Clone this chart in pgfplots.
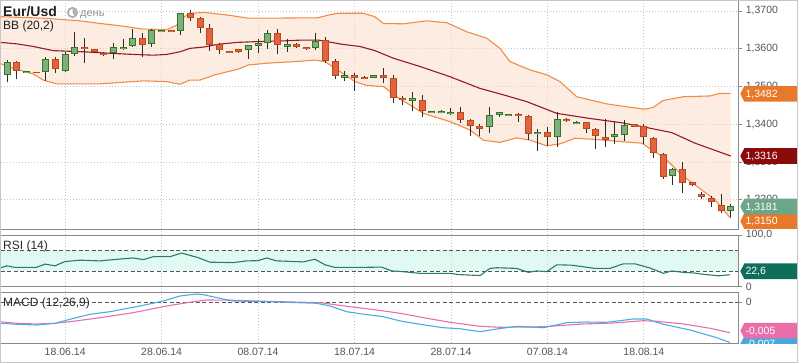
\documentclass[border=0pt]{standalone}
\usepackage{fontspec}
\setmainfont{Liberation Sans}
\usepackage{pgfplots}
\pgfplotsset{compat=1.18}
\usepackage{pgfplotstable}

\definecolor{cRedFill}{HTML}{E4633E}
\definecolor{cRedLine}{HTML}{B84A1C}
\definecolor{cGreenFill}{HTML}{80AE80}
\definecolor{cGreenLine}{HTML}{2E7A1E}
\definecolor{wick}{HTML}{2B2B2B}
\definecolor{bbOuter}{HTML}{F08C48}
\definecolor{bbMid}{HTML}{961A22}
\definecolor{bbFill}{HTML}{FBDCC8}
\definecolor{rsiLine}{HTML}{2A7B6B}
\definecolor{rsiFill}{HTML}{C4F4E8}
\definecolor{macdBlue}{HTML}{4AADE2}
\definecolor{macdPink}{HTML}{E86FA8}
\definecolor{gridc}{HTML}{C4C8C4}
\definecolor{axisc}{HTML}{8A8A8A}
\definecolor{tickc}{HTML}{555555}
\definecolor{tagOrange}{HTML}{E8792A}
\definecolor{tagDarkRed}{HTML}{8B0A0A}
\definecolor{tagGreen}{HTML}{6BA68A}
\definecolor{tagTeal}{HTML}{0E6E5C}
\definecolor{tagPink}{HTML}{E86FA8}
\definecolor{tagBlue}{HTML}{45A9DE}

\newcommand\tickfont{\fontsize{10.5}{12}\selectfont}

% candles: k open high low close
\pgfplotstableread{
k o h l c
1 1.3564 1.3568 1.3519 1.3543
3 1.3538 1.3539 1.3535 1.3536
5 1.3572 1.3577 1.3535 1.3548
8 1.3604 1.3628 1.3563 1.3600
9 1.3597 1.3599 1.3589 1.3592
10 1.3588 1.3592 1.3582 1.3585
14 1.3628 1.3642 1.3577 1.3612
17 1.3649 1.3650 1.3644 1.3645
19 1.3694 1.3703 1.3674 1.3683
20 1.3679 1.3685 1.3641 1.3656
21 1.3654 1.3665 1.3595 1.3610
22 1.3612 1.3614 1.3585 1.3598
23 1.3594 1.3595 1.3588 1.3589
24 1.3597 1.3600 1.3590 1.3592
28 1.3641 1.3651 1.3587 1.3612
30 1.3610 1.3614 1.3602 1.3605
31 1.3604 1.3605 1.3597 1.3600
33 1.3621 1.3630 1.3561 1.3568
34 1.3567 1.3573 1.3520 1.3528
36 1.3528 1.3535 1.3489 1.3523
37 1.3525 1.3527 1.3519 1.3520
39 1.3528 1.3549 1.3510 1.3524
40 1.3522 1.3530 1.3457 1.3471
41 1.3469 1.3474 1.3452 1.3465
43 1.3463 1.3477 1.3420 1.3436
47 1.3431 1.3445 1.3404 1.3413
48 1.3410 1.3414 1.3369 1.3397
49 1.3393 1.3400 1.3369 1.3388
53 1.3427 1.3429 1.3407 1.3423
54 1.3421 1.3424 1.3358 1.3376
56 1.3379 1.3394 1.3342 1.3367
58 1.3413 1.3416 1.3407 1.3409
60 1.3405 1.3406 1.3377 1.3388
61 1.3385 1.3389 1.3334 1.3371
62 1.3366 1.3414 1.3340 1.3361
65 1.3399 1.3400 1.3393 1.3395
66 1.3394 1.3400 1.3349 1.3368
67 1.3363 1.3367 1.3311 1.3325
68 1.3321 1.3325 1.3255 1.3263
70 1.3280 1.3299 1.3219 1.3246
71 1.3245 1.3248 1.3236 1.3240
72 1.3214 1.3222 1.3202 1.3210
73 1.3204 1.3210 1.3181 1.3196
74 1.3185 1.3215 1.3164 1.3173
}\redC

\pgfplotstableread{
k o h l c
0 1.3533 1.3570 1.3511 1.3564
2 1.3537 1.3542 1.3536 1.3541
4 1.3540 1.3579 1.3515 1.3572
6 1.3543 1.3592 1.3539 1.3586
7 1.3588 1.3645 1.3581 1.3604
11 1.3590 1.3616 1.3572 1.3604
12 1.3600 1.3625 1.3597 1.3604
13 1.3609 1.3652 1.3605 1.3628
15 1.3614 1.3651 1.3605 1.3648
16 1.3646 1.3650 1.3645 1.3649
18 1.3649 1.3696 1.3637 1.3694
25 1.3597 1.3609 1.3573 1.3609
26 1.3609 1.3625 1.3588 1.3613
27 1.3617 1.3649 1.3600 1.3641
29 1.3606 1.3626 1.3592 1.3611
32 1.3604 1.3642 1.3597 1.3620
35 1.3524 1.3541 1.3515 1.3528
38 1.3524 1.3529 1.3523 1.3528
42 1.3462 1.3485 1.3436 1.3467
44 1.3430 1.3435 1.3429 1.3434
45 1.3430 1.3438 1.3429 1.3434
46 1.3428 1.3442 1.3424 1.3432
50 1.3393 1.3446 1.3377 1.3424
51 1.3426 1.3431 1.3420 1.3431
52 1.3423 1.3427 1.3423 1.3427
55 1.3376 1.3387 1.3330 1.3379
57 1.3367 1.3432 1.3340 1.3413
59 1.3401 1.3409 1.3400 1.3406
63 1.3368 1.3409 1.3347 1.3372
64 1.3373 1.3411 1.3355 1.3398
69 1.3265 1.3284 1.3240 1.3281
75 1.3172 1.3188 1.3154 1.3181
}\greenC

\pgfplotstableread{
k v
-0.76 1.3685
3.70 1.3681
7.54 1.3674
9.61 1.3667
12.0 1.3660
14.07 1.3652
16.56 1.3651
17.6 1.3663
18.11 1.3681
18.94 1.3694
20.5 1.3696
22.9 1.3689
24.96 1.3681
27.0 1.3681
32.2 1.3682
33.25 1.3689
34.3 1.3694
36.9 1.3694
38.1 1.3685
39.0 1.3667
41.06 1.3666
43.48 1.3674
45.56 1.3669
47.63 1.3645
49.7 1.3628
51.08 1.3601
52.12 1.3566
54.19 1.3544
55.93 1.3531
57.3 1.3513
59.04 1.3473
62.15 1.3454
64.56 1.3445
66.12 1.3440
66.98 1.3445
68.0 1.3463
70.1 1.3473
72.86 1.3475
73.89 1.3482
75.0 1.3482
}\bbUp

\pgfplotstableread{
k v
-0.76 1.3617
0.97 1.3613
2.70 1.3606
4.77 1.3595
7.88 1.3592
10.65 1.3588
13.06 1.3585
15.14 1.3583
16.53 1.3585
17.9 1.3592
18.94 1.3601
20.5 1.3605
21.88 1.3612
23.95 1.3617
26.0 1.3619
28.79 1.3621
30.52 1.3623
32.24 1.3623
32.94 1.3620
34.67 1.3612
36.57 1.3606
38.12 1.3595
40.02 1.3575
42.79 1.3553
45.9 1.3526
49.01 1.3495
51.43 1.3478
53.85 1.3460
56.96 1.3429
60.24 1.3416
63.7 1.3404
65.78 1.3394
68.89 1.3378
71.3 1.3350
75.0 1.3316
}\bbMidT

\pgfplotstableread{
k v
-0.76 1.3561
0.62 1.3548
2.70 1.3533
3.73 1.3517
5.12 1.3507
9.61 1.3507
14.1 1.3515
16.53 1.3513
17.9 1.3506
18.94 1.3517
19.98 1.3517
21.53 1.3531
23.95 1.3546
24.99 1.3557
27.06 1.3562
29.83 1.3566
31.9 1.3570
32.94 1.3566
33.98 1.3548
35.0 1.3531
36.05 1.3513
37.1 1.3504
38.12 1.3501
39.0 1.3500
40.37 1.3473
43.13 1.3429
45.9 1.3407
47.97 1.3385
49.35 1.3358
51.08 1.3352
52.81 1.3364
54.19 1.3358
55.93 1.3343
57.3 1.3348
58.86 1.3363
60.93 1.3360
63.7 1.3354
65.78 1.3350
67.15 1.3327
68.19 1.3310
69.92 1.3266
71.64 1.3233
73.37 1.3200
75.0 1.3151
}\bbLo

% band outline: upper band forward, lower band back
\pgfplotstableread{
k v
-0.76 1.3685
3.70 1.3681
7.54 1.3674
9.61 1.3667
12.0 1.3660
14.07 1.3652
16.56 1.3651
17.6 1.3663
18.11 1.3681
18.94 1.3694
20.5 1.3696
22.9 1.3689
24.96 1.3681
27.0 1.3681
32.2 1.3682
33.25 1.3689
34.3 1.3694
36.9 1.3694
38.1 1.3685
39.0 1.3667
41.06 1.3666
43.48 1.3674
45.56 1.3669
47.63 1.3645
49.7 1.3628
51.08 1.3601
52.12 1.3566
54.19 1.3544
55.93 1.3531
57.3 1.3513
59.04 1.3473
62.15 1.3454
64.56 1.3445
66.12 1.3440
66.98 1.3445
68.0 1.3463
70.1 1.3473
72.86 1.3475
73.89 1.3482
75.0 1.3482
75.0 1.3151
73.37 1.3200
71.64 1.3233
69.92 1.3266
68.19 1.3310
67.15 1.3327
65.78 1.3350
63.7 1.3354
60.93 1.3360
58.86 1.3363
57.3 1.3348
55.93 1.3343
54.19 1.3358
52.81 1.3364
51.08 1.3352
49.35 1.3358
47.97 1.3385
45.9 1.3407
43.13 1.3429
40.37 1.3473
39.0 1.3500
38.12 1.3501
37.1 1.3504
36.05 1.3513
35.0 1.3531
33.98 1.3548
32.94 1.3566
31.9 1.3570
29.83 1.3566
27.06 1.3562
24.99 1.3557
23.95 1.3546
21.53 1.3531
19.98 1.3517
18.94 1.3517
17.9 1.3506
16.53 1.3513
14.1 1.3515
9.61 1.3507
5.12 1.3507
3.73 1.3517
2.70 1.3533
0.62 1.3548
-0.76 1.3561
}\bbPoly

\pgfplotstableread{
k v
-0.76 35.7
-0.06 40.1
0.80 36.9
2.98 36.9
3.91 43.3
4.95 40.1
5.98 48.3
7.54 51.0
9.61 49.6
11.0 52.1
13.06 55.3
14.1 52.1
15.14 57.8
16.87 57.8
18.08 64.8
19.8 55.9
21.0 47.1
23.43 46.3
24.82 49.6
26.0 50.1
26.9 55.3
27.93 49.6
30.69 47.7
31.9 52.8
32.94 42.0
33.98 36.9
36.57 36.9
38.82 37.6
39.86 30.0
40.72 29.2
42.79 25.4
45.9 25.4
46.76 23.0
49.01 21.1
50.05 35.0
50.74 36.3
52.81 35.0
54.02 27.3
54.89 30.0
55.93 28.7
56.96 42.0
58.52 41.3
60.93 35.0
62.49 35.0
63.87 43.9
65.08 43.9
66.64 35.7
68.02 25.4
68.89 30.0
70.09 27.3
71.13 26.2
72.16 23.6
73.71 20.6
74.93 22.6
}\rsiT

\pgfplotstableread{
k v
-0.76 -0.00347
0.97 -0.00363
3.05 -0.00375
4.95 -0.00347
6.50 -0.00282
8.57 -0.00200
10.65 -0.00158
13.76 -0.00065
16.17 0.00016
17.90 0.00098
19.64 0.00130
20.32 0.00119
22.05 0.00060
23.43 0.00016
26.9 0.00005
32.08 -0.00021
33.46 -0.00065
35.19 -0.00158
36.57 -0.00191
39.0 -0.00239
40.72 -0.00309
42.79 -0.00363
45.2 -0.00419
46.93 -0.00435
49.01 -0.00484
50.74 -0.00440
52.81 -0.00396
55.57 -0.00419
58.0 -0.00337
60.07 -0.00326
62.15 -0.00331
64.9 -0.00277
66.29 -0.00277
68.02 -0.00363
70.78 -0.00456
73.55 -0.00581
74.93 -0.00660
}\macdT

\pgfplotstableread{
k v
-0.76 -0.00321
0.97 -0.00347
3.05 -0.00358
4.95 -0.00347
6.50 -0.00321
9.61 -0.00256
13.06 -0.00174
16.53 -0.00065
19.3 0.00005
20.67 0.00033
23.43 0.00028
26.9 0.00011
32.42 -0.00011
35.53 -0.00077
38.3 -0.00130
40.72 -0.00184
43.48 -0.00265
45.9 -0.00331
49.01 -0.00396
51.08 -0.00412
54.54 -0.00407
56.26 -0.00396
59.74 -0.00358
62.83 -0.00342
65.94 -0.00305
67.33 -0.00314
70.09 -0.00358
72.86 -0.00428
74.93 -0.00500
}\sigT

\pgfplotsset{
  panel/.style={
    scale only axis, anchor=south west, width=737.8pt,
    xmin=-0.705, xmax=75.79, xtick=\empty,
    scaled y ticks=false,
    axis line style={draw=axisc, line width=0.9pt},
    ytick pos=right, yticklabel pos=right,
    tick align=outside, major tick length=4pt,
    tick style={draw=axisc, line width=0.9pt},
    yticklabel style={font=\tickfont, text=tickc},
  },
}

\newcommand\valtag[4]{%
  \begin{scope}[shift={(#1)}, yshift=#4]
    \fill[#2] (2pt,0) -- (6pt,7.8pt) -- (59pt,7.8pt) -- (59pt,-7.8pt) -- (6pt,-7.8pt) -- cycle;
    \node[anchor=base west, inner sep=0pt, text=white, font=\tickfont] at (7pt,-3.7pt) {#3};
  \end{scope}}

\begin{document}
\begin{tikzpicture}
\path[use as bounding box] (0,0) rectangle (798pt,363pt);

% background: vertical grid and dates
\begin{axis}[scale only axis, anchor=south west, at={(0.5pt,20pt)},
  width=737.8pt, height=342.5pt, xmin=-0.705, xmax=75.79, ymin=0, ymax=1,
  axis line style={draw=none}, ytick=\empty,
  xtick={6,16,26,36,46,56,66},
  xticklabels={18.06.14,28.06.14,08.07.14,18.07.14,28.07.14,07.08.14,18.08.14},
  xmajorgrids, major grid style={gridc, dash pattern=on 1pt off 2pt, line width=0.8pt},
  major tick length=0pt,
  xticklabel style={anchor=base, yshift=-13pt, font=\tickfont, text=tickc}]
\addplot[draw=none, forget plot] coordinates {(0,0.5)};
\end{axis}

% main panel
\begin{axis}[panel, at={(0.5pt,133.7pt)}, height=228.8pt,
  ymin=1.312194, ymax=1.37278,
  ytick={1.32,1.33,1.34,1.35,1.36,1.37},
  yticklabels={{1,3200},{1,3300},{1,3400},{1,3500},{1,3600},{1,3700}},
  ymajorgrids, major grid style={gridc, dash pattern=on 1pt off 2pt, line width=0.8pt}]
\addplot[fill=bbFill, fill opacity=0.55, draw=none, forget plot] table[x=k,y=v]{\bbPoly};
\addplot[bbOuter, line width=1.1pt, forget plot] table[x=k,y=v]{\bbUp};
\addplot[bbOuter, line width=1.1pt, forget plot] table[x=k,y=v]{\bbLo};
\addplot[bbMid, line width=1.1pt, forget plot] table[x=k,y=v]{\bbMidT};
% wicks
\addplot[draw=wick, line width=1pt, forget plot, quiver={u=0, v=\thisrow{h}-\thisrow{l}}]
  table[x=k, y=l]{\redC};
\addplot[draw=wick, line width=1pt, forget plot, quiver={u=0, v=\thisrow{h}-\thisrow{l}}]
  table[x=k, y=l]{\greenC};
% red bodies
\addplot[draw=cRedLine, line width=7pt, forget plot, quiver={u=0, v=\thisrow{o}-\thisrow{c}+0.00026}]
  table[x=k, y expr=\thisrow{c}-0.00013]{\redC};
\addplot[draw=cRedFill, line width=5pt, forget plot, quiver={u=0, v={max(\thisrow{o}-\thisrow{c}-0.00026,0)}}]
  table[x=k, y expr=\thisrow{c}+0.00013]{\redC};
% green bodies
\addplot[draw=cGreenLine, line width=7pt, forget plot, quiver={u=0, v=\thisrow{c}-\thisrow{o}+0.00026}]
  table[x=k, y expr=\thisrow{o}-0.00013]{\greenC};
\addplot[draw=cGreenFill, line width=5pt, forget plot, quiver={u=0, v={max(\thisrow{c}-\thisrow{o}-0.00026,0)}}]
  table[x=k, y expr=\thisrow{o}+0.00013]{\greenC};
\coordinate (tUp) at (axis cs:75.79,1.3482);
\coordinate (tMid) at (axis cs:75.79,1.3316);
\coordinate (tCl) at (axis cs:75.79,1.3181);
\coordinate (tLo) at (axis cs:75.79,1.3150);
\end{axis}

% RSI panel
\begin{axis}[panel, at={(0.5pt,76.6pt)}, height=51.4pt,
  ymin=0, ymax=100, ytick={0,100}, yticklabels={0,{100,0}}]
\addplot[fill=rsiFill, fill opacity=0.5, draw=none, forget plot] coordinates {(-0.705,30) (75.79,30) (75.79,70) (-0.705,70)};
\addplot[tickc, line width=0.8pt, dash pattern=on 4pt off 2.5pt, forget plot] coordinates {(-0.705,70) (75.79,70)};
\addplot[tickc, line width=0.8pt, dash pattern=on 4pt off 2.5pt, forget plot] coordinates {(-0.705,30) (75.79,30)};
\addplot[rsiLine, line width=1.1pt, forget plot] table[x=k,y=v]{\rsiT};
\coordinate (tRsi) at (axis cs:75.79,22.6);
\end{axis}

% MACD panel
\begin{axis}[panel, at={(0.5pt,20pt)}, height=51pt,
  ymin=-0.006678, ymax=0.001629, ytick={0}, yticklabels={0}]
\addplot[tickc, line width=0.8pt, dash pattern=on 4pt off 2.5pt, forget plot] coordinates {(-0.705,0) (75.79,0)};
\addplot[macdPink, line width=1.1pt, forget plot] table[x=k,y=v]{\sigT};
\addplot[macdBlue, line width=1.1pt, forget plot] table[x=k,y=v]{\macdT};
\coordinate (tSig) at (axis cs:75.79,-0.005);
\coordinate (tMacd) at (axis cs:75.79,-0.0066);
\end{axis}

% value tags
\valtag{tUp}{tagOrange}{1,3482}{-0.5pt}
\valtag{tMid}{tagDarkRed}{1,3316}{0pt}
\valtag{tLo}{tagOrange}{1,3150}{-2.5pt}
\valtag{tCl}{tagGreen}{1,3181}{0.5pt}
\valtag{tRsi}{tagTeal}{22,6}{3.5pt}
\begin{scope}
  \clip (735pt,19pt) rectangle (798pt,80pt);
  \valtag{tMacd}{tagBlue}{-0,007}{-1.5pt}
\end{scope}
\valtag{tSig}{tagPink}{-0,005}{2pt}

% titles
\node[anchor=base west, inner sep=0pt, text={rgb,255:red,30;green,30;blue,30},
  font=\fontsize{14}{16}\selectfont\bfseries] at (3pt,346pt) {Eur/Usd};
\begin{scope}[shift={(72.5pt,350.5pt)}]
  \fill[gray!65] (0,0) circle (5.6pt);
  \fill[white] (0,0) circle (3.6pt);
  \fill[gray!65] (0,0) -- (90:3.6pt) arc (90:-60:3.6pt) -- cycle;
\end{scope}
\node[anchor=base west, inner sep=0pt, text=gray!85, font=\fontsize{11}{13}\selectfont] at (80pt,346pt) {день};
\node[anchor=base west, inner sep=0pt, text={rgb,255:red,30;green,30;blue,30}, font=\fontsize{12}{14}\selectfont] at (3pt,333pt) {BB (20,2)};
\node[anchor=base west, inner sep=0pt, text={rgb,255:red,40;green,40;blue,40}, font=\fontsize{12}{14}\selectfont] at (3pt,113.5pt) {RSI (14)};
\node[anchor=base west, inner sep=0pt, text={rgb,255:red,40;green,40;blue,40}, font=\fontsize{12}{14}\selectfont] at (3pt,56.5pt) {MACD (12,26,9)};

% outer frame
\draw[gray!45, line width=0.8pt] (0.4pt,0.4pt) rectangle (797.6pt,362.6pt);
\end{tikzpicture}
\end{document}
